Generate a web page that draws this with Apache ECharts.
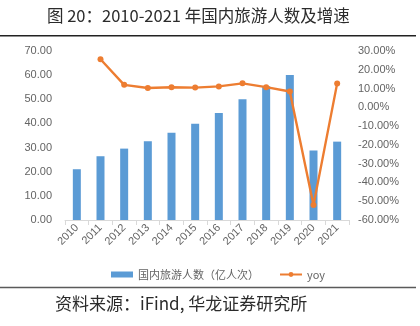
<!DOCTYPE html>
<html>
<head>
<meta charset="utf-8">
<script src="https://cdn.jsdelivr.net/npm/echarts@6/dist/echarts.min.js"></script>
<style>
  html, body { margin: 0; padding: 0; background: #fff; }
  #chart { width: 420px; height: 326px; }
</style>
</head>
<body>
<div id="chart"></div>
<script>
// Years on the category axis
const years = ['2010', '2011', '2012', '2013', '2014', '2015', '2016', '2017', '2018', '2019', '2020', '2021'];
// Domestic tourist trips (100 million person-times)
const tourists = [21.03, 26.41, 29.57, 32.62, 36.11, 39.90, 44.35, 50.01, 55.39, 60.06, 28.79, 32.46];
// Year-over-year growth (%), no value for the first year
const yoy = [null, 25.58, 11.97, 10.32, 10.70, 10.50, 11.15, 12.76, 10.76, 8.43, -52.07, 12.75];

const labelColor = '#646464';
const font = 'Liberation Sans, Arial, sans-serif';

const chart = echarts.init(document.getElementById('chart'), null, { renderer: 'canvas' });
chart.setOption({
  backgroundColor: '#ffffff',
  animation: false,
  textStyle: { fontFamily: font },
  graphic: [
    {
      type: 'text', left: 47, top: 7,
      style: { text: '图 20：2010-2021 年国内旅游人数及增速', font: '16.5px "Noto Sans CJK SC"', fill: '#2b2b2b' }
    },
    { type: 'rect', shape: { x: 0, y: 35, width: 416, height: 1.4 }, style: { fill: '#222222' } },
    { type: 'rect', shape: { x: 0, y: 286.8, width: 416, height: 1.5 }, style: { fill: '#5a5a5a' } },
    {
      type: 'text', left: 55, top: 295,
      style: { text: '资料来源：iFind, 华龙证券研究所', font: '17px "Noto Sans CJK SC"', fill: '#2b2b2b' }
    }
  ],
  grid: { left: 65, right: 71, top: 51, bottom: 106 },
  legend: {
    left: 106, top: 264,
    itemGap: 20,
    textStyle: { color: labelColor, fontSize: 11, fontFamily: '"Noto Sans CJK SC", sans-serif' },
    data: [
      { name: '国内旅游人数（亿人次）', icon: 'rect', itemStyle: { color: '#5B9BD5' } },
      { name: 'yoy' }
    ],
    itemWidth: 22, itemHeight: 6
  },
  xAxis: {
    type: 'category',
    data: years,
    boundaryGap: true,
    axisLine: { lineStyle: { color: '#d9d9d9', width: 1 } },
    axisTick: { show: true, length: 5, lineStyle: { color: '#d9d9d9' } },
    axisLabel: { rotate: 45, color: labelColor, fontSize: 11, margin: 6 }
  },
  yAxis: [
    {
      type: 'value', min: 0, max: 70, interval: 10,
      splitLine: { show: false },
      axisLine: { show: false }, axisTick: { show: false },
      axisLabel: { color: labelColor, fontSize: 11, margin: 13, formatter: v => v.toFixed(2) }
    },
    {
      type: 'value', min: -60, max: 30, interval: 10,
      splitLine: { show: false },
      axisLine: { show: false }, axisTick: { show: false },
      axisLabel: { color: labelColor, fontSize: 11, margin: 9, formatter: v => v.toFixed(2) + '%' }
    }
  ],
  series: [
    {
      name: '国内旅游人数（亿人次）',
      type: 'bar',
      yAxisIndex: 0,
      data: tourists,
      barWidth: 8,
      itemStyle: { color: '#5B9BD5' }
    },
    {
      name: 'yoy',
      type: 'line',
      yAxisIndex: 1,
      data: yoy,
      symbol: 'circle',
      symbolSize: 6,
      lineStyle: { color: '#ED7D31', width: 2.4 },
      itemStyle: { color: '#ED7D31' }
    }
  ]
});
</script>
</body>
</html>
